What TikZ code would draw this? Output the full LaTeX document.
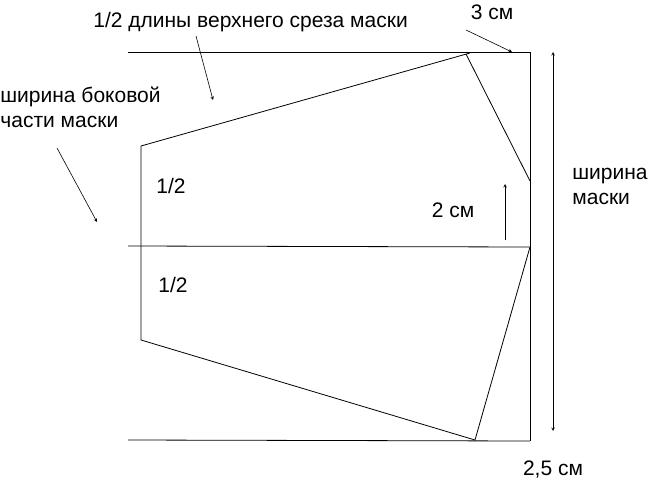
\documentclass[tikz,border=0pt]{standalone}
\usepackage{fontspec}
\setmainfont{Liberation Sans}
\begin{document}
\begin{tikzpicture}[x=1pt,y=-1pt,line width=0.8pt,
  lbl/.style={font=\fontsize{21}{25}\selectfont,align=left,inner sep=0pt},
  arr/.style={->,>=stealth,line width=0.6pt}]
\useasboundingbox (0,0) rectangle (649,485);
\coordinate (tl) at (128,52); \coordinate (tr) at (530,52);
\coordinate (ml) at (128,246); \coordinate (mr) at (530,247);
\coordinate (bl) at (128,440); \coordinate (br) at (530,441);
\coordinate (a) at (141,146); \coordinate (b) at (141,340);
\coordinate (c) at (470,53); \coordinate (d) at (466,54); \coordinate (e) at (530,181);
\coordinate (f) at (475,440);
\draw (tl) -- (tr) -- (br);
\draw (ml) -- (mr);
\draw (bl) -- (br);
\draw (c) -- (a) -- (b) -- (f) -- (mr);
\draw (d) -- (e);
\node[lbl,anchor=west] (t1) at (93,22) {1/2 длины верхнего среза маски};
\node[lbl,anchor=west] (t2) at (0,107) {ширина боковой\\части маски};
\node[lbl] (t3) at (492,12) {3 см};
\node[lbl,anchor=west] (t4) at (572,186) {ширина\\маски};
\node[lbl] (t5) at (453,210) {2 см};
\node[lbl] (t6) at (171,186) {1/2};
\node[lbl] (t7) at (173,285) {1/2};
\node[lbl] (t8) at (553,470) {2,5 см};
\coordinate (p1) at (196,36); \coordinate (q1) at (213,100);
\coordinate (p2) at (57,148); \coordinate (q2) at (97,222);
\coordinate (p3) at (466,30); \coordinate (q3) at (512,52);
\coordinate (p4) at (505,240); \coordinate (q4) at (505,184);
\coordinate (p5) at (553,52); \coordinate (q5) at (553,431);
\draw[arr] (p1) -- (q1);
\draw[arr] (p2) -- (q2);
\draw[arr] (p3) -- (q3);
\draw[arr] (p4) -- (q4);
\draw[arr,<->] (p5) -- (q5);
\end{tikzpicture}
\end{document}
